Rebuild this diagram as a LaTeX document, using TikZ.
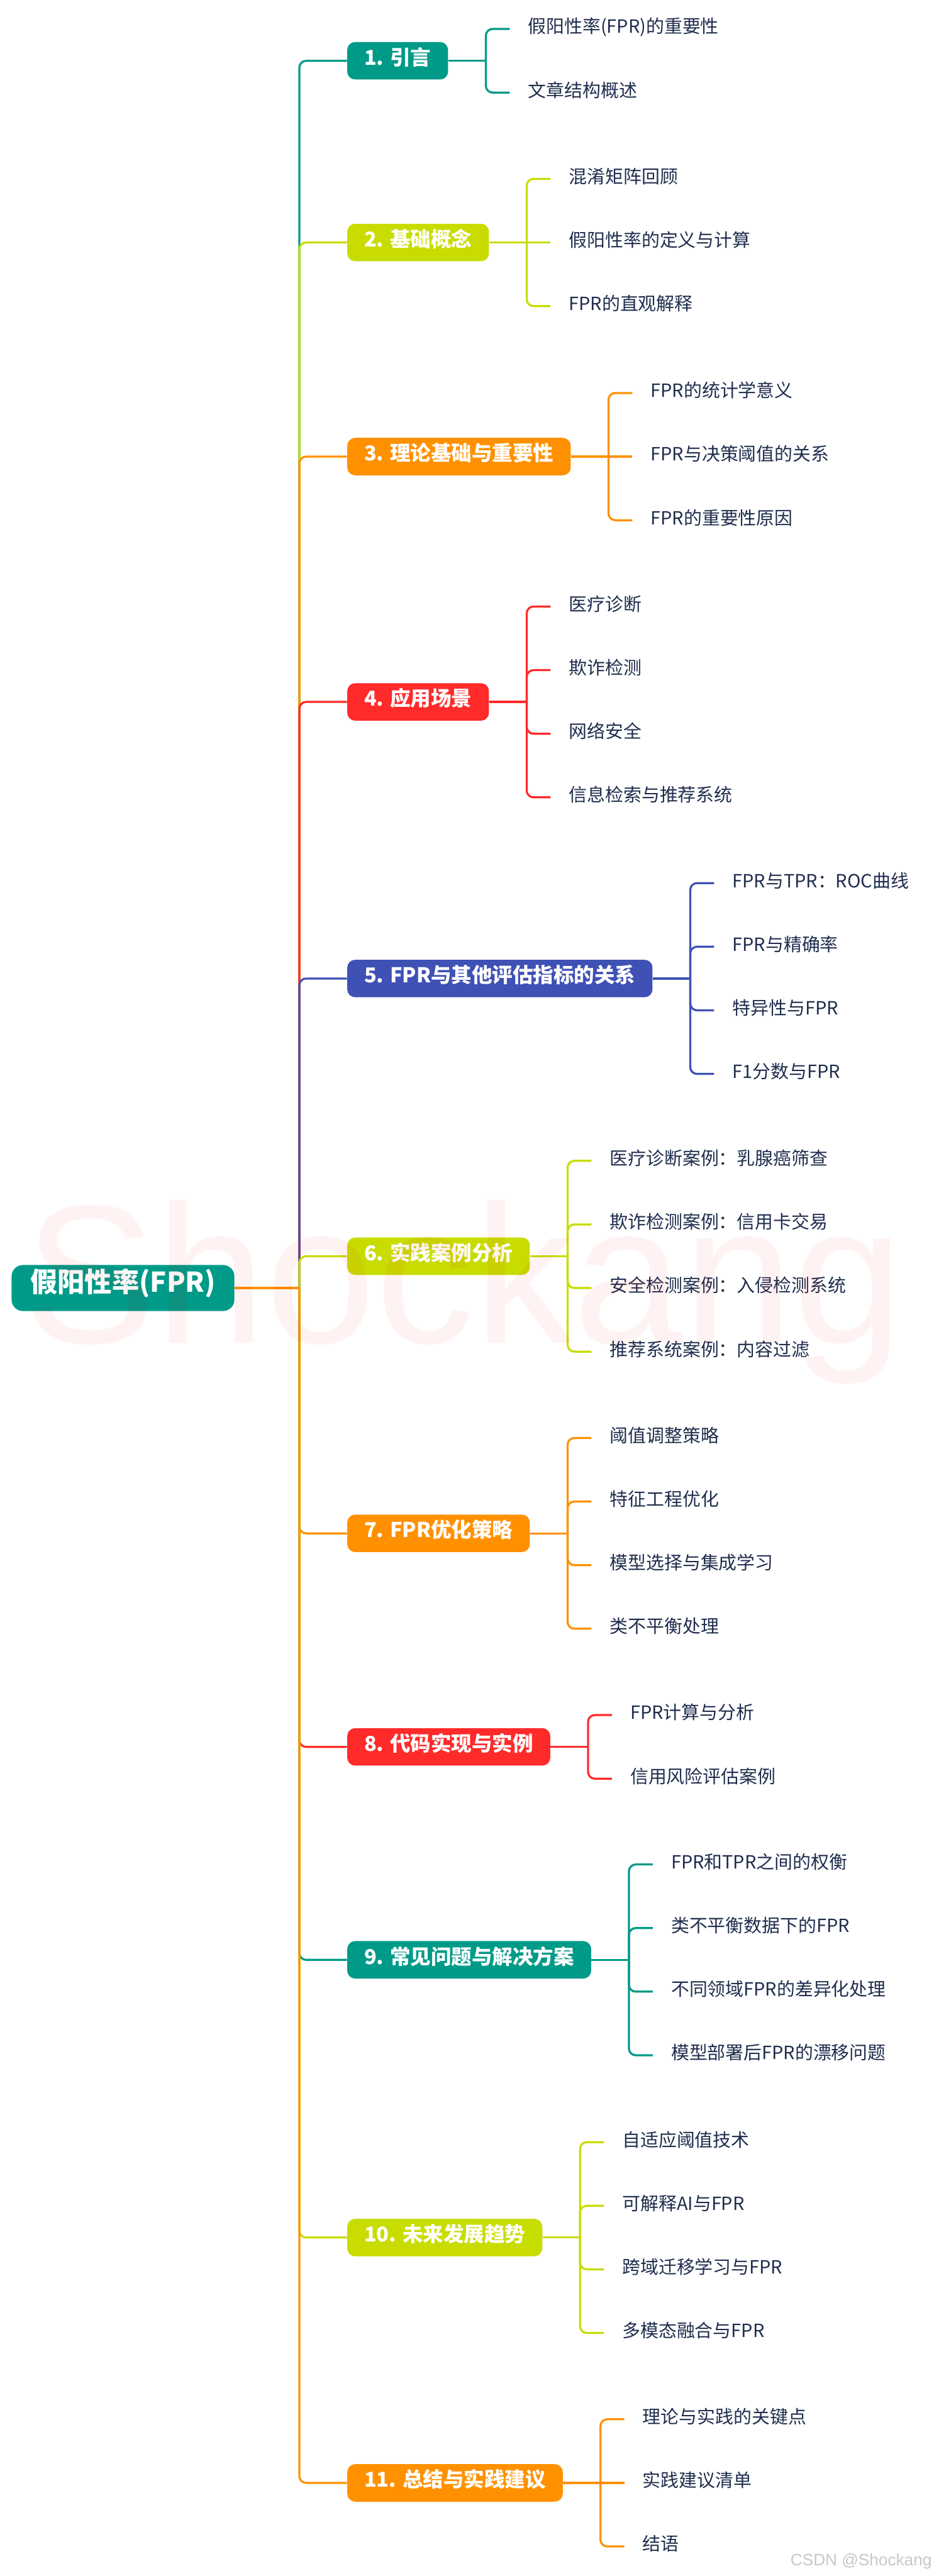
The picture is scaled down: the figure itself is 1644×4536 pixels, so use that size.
\documentclass[tikz,border=0pt]{standalone}
\usepackage{fontspec}
\setmainfont{Noto Sans CJK SC}
\newfontfamily\wmfont{Liberation Sans}
\definecolor{cTeal}{RGB}{0,154,136}
\definecolor{cLime}{RGB}{200,220,0}
\definecolor{cOrange}{RGB}{255,145,0}
\definecolor{cRed}{RGB}{255,42,42}
\definecolor{cBlue}{RGB}{63,81,181}
\definecolor{cText}{RGB}{31,45,77}
\tikzset{
  rootbox/.style={fill=cTeal, rounded corners=10pt, text=white,
    font=\fontsize{24}{24}\selectfont\bfseries, inner xsep=16.5pt, inner ysep=0pt,
    minimum height=40.5pt, text height=0.78em, text depth=0.02em, anchor=west},
  topicbox/.style={fill=#1, rounded corners=7pt, text=white,
    font=\fontsize{18}{18}\selectfont\bfseries, inner xsep=15pt, inner ysep=0pt,
    minimum height=33pt, text height=0.78em, text depth=0.02em, anchor=west},
  leafnode/.style={text=cText, font=\fontsize{16}{16}\selectfont, inner sep=0pt,
    text height=0.78em, text depth=0.02em, anchor=west},
  linkline/.style={draw=#1, line width=1.8pt, rounded corners=6pt},
}
\begin{document}
\begin{tikzpicture}[x=0.5pt, y=-0.5pt]
\useasboundingbox (0,0) rectangle (1644,4536);
\coordinate (J) at (527,2268);
\node[rootbox] (root) at (20,2268) {假阳性率(FPR)};

% ---------- topic nodes
\node[topicbox=cTeal]   (b1)  at (611,107)  {1. 引言};
\node[topicbox=cLime]   (b2)  at (611,427)  {2. 基础概念};
\node[topicbox=cOrange] (b3)  at (611,804)  {3. 理论基础与重要性};
\node[topicbox=cRed]    (b4)  at (611,1236) {4. 应用场景};
\node[topicbox=cBlue]   (b5)  at (611,1723) {5. FPR与其他评估指标的关系};
\node[topicbox=cLime]   (b6)  at (611,2212) {6. 实践案例分析};
\node[topicbox=cOrange] (b7)  at (611,2700) {7. FPR优化策略};
\node[topicbox=cRed]    (b8)  at (611,3076) {8. 代码实现与实例};
\node[topicbox=cTeal]   (b9)  at (611,3451) {9. 常见问题与解决方案};
\node[topicbox=cLime]   (b10) at (611,3940) {10. 未来发展趋势};
\node[topicbox=cOrange] (b11) at (611,4372) {11. 总结与实践建议};

% ---------- bracket coordinates
\foreach \i in {1,...,11} {\coordinate (k\i) at ([xshift=33pt]b\i.east);}

% ---------- leaves
\node[leafnode] (c1a) at ([xshift=37pt,yshift=28pt]k1)  {假阳性率(FPR)的重要性};
\node[leafnode] (c1b) at ([xshift=37pt,yshift=-28pt]k1) {文章结构概述};

\node[leafnode] (c2a) at ([xshift=37pt,yshift=56pt]k2)  {混淆矩阵回顾};
\node[leafnode] (c2b) at ([xshift=37pt]k2)              {假阳性率的定义与计算};
\node[leafnode] (c2c) at ([xshift=37pt,yshift=-56pt]k2) {FPR的直观解释};

\node[leafnode] (c3a) at ([xshift=37pt,yshift=56pt]k3)  {FPR的统计学意义};
\node[leafnode] (c3b) at ([xshift=37pt]k3)              {FPR与决策阈值的关系};
\node[leafnode] (c3c) at ([xshift=37pt,yshift=-56pt]k3) {FPR的重要性原因};

\node[leafnode] (c4a) at ([xshift=37pt,yshift=84pt]k4)  {医疗诊断};
\node[leafnode] (c4b) at ([xshift=37pt,yshift=28pt]k4)  {欺诈检测};
\node[leafnode] (c4c) at ([xshift=37pt,yshift=-28pt]k4) {网络安全};
\node[leafnode] (c4d) at ([xshift=37pt,yshift=-84pt]k4) {信息检索与推荐系统};

\node[leafnode] (c5a) at ([xshift=37pt,yshift=84pt]k5)  {FPR与TPR：ROC曲线};
\node[leafnode] (c5b) at ([xshift=37pt,yshift=28pt]k5)  {FPR与精确率};
\node[leafnode] (c5c) at ([xshift=37pt,yshift=-28pt]k5) {特异性与FPR};
\node[leafnode] (c5d) at ([xshift=37pt,yshift=-84pt]k5) {F1分数与FPR};

\node[leafnode] (c6a) at ([xshift=37pt,yshift=84pt]k6)  {医疗诊断案例：乳腺癌筛查};
\node[leafnode] (c6b) at ([xshift=37pt,yshift=28pt]k6)  {欺诈检测案例：信用卡交易};
\node[leafnode] (c6c) at ([xshift=37pt,yshift=-28pt]k6) {安全检测案例：入侵检测系统};
\node[leafnode] (c6d) at ([xshift=37pt,yshift=-84pt]k6) {推荐系统案例：内容过滤};

\node[leafnode] (c7a) at ([xshift=37pt,yshift=84pt]k7)  {阈值调整策略};
\node[leafnode] (c7b) at ([xshift=37pt,yshift=28pt]k7)  {特征工程优化};
\node[leafnode] (c7c) at ([xshift=37pt,yshift=-28pt]k7) {模型选择与集成学习};
\node[leafnode] (c7d) at ([xshift=37pt,yshift=-84pt]k7) {类不平衡处理};

\node[leafnode] (c8a) at ([xshift=37pt,yshift=28pt]k8)  {FPR计算与分析};
\node[leafnode] (c8b) at ([xshift=37pt,yshift=-28pt]k8) {信用风险评估案例};

\node[leafnode] (c9a) at ([xshift=37pt,yshift=84pt]k9)  {FPR和TPR之间的权衡};
\node[leafnode] (c9b) at ([xshift=37pt,yshift=28pt]k9)  {类不平衡数据下的FPR};
\node[leafnode] (c9c) at ([xshift=37pt,yshift=-28pt]k9) {不同领域FPR的差异化处理};
\node[leafnode] (c9d) at ([xshift=37pt,yshift=-84pt]k9) {模型部署后FPR的漂移问题};

\node[leafnode] (c10a) at ([xshift=37pt,yshift=84pt]k10)  {自适应阈值技术};
\node[leafnode] (c10b) at ([xshift=37pt,yshift=28pt]k10)  {可解释AI与FPR};
\node[leafnode] (c10c) at ([xshift=37pt,yshift=-28pt]k10) {跨域迁移学习与FPR};
\node[leafnode] (c10d) at ([xshift=37pt,yshift=-84pt]k10) {多模态融合与FPR};

\node[leafnode] (c11a) at ([xshift=37pt,yshift=56pt]k11)  {理论与实践的关键点};
\node[leafnode] (c11b) at ([xshift=37pt]k11)              {实践建议清单};
\node[leafnode] (c11c) at ([xshift=37pt,yshift=-56pt]k11) {结语};

% ---------- trunk connectors (order matters for overlaps)
\draw[linkline=cTeal]   (J) |- (b1.west);
\draw[linkline=cLime]   (J) |- (b2.west);
\draw[linkline=cOrange] (J) |- (b3.west);
\draw[linkline=cRed]    (J) |- (b4.west);
\draw[linkline=cBlue]   (J) |- (b5.west);
\draw[linkline=cLime]   (J) |- (b6.west);
\draw[linkline=cOrange] (J) |- (b7.west);
\draw[linkline=cRed]    (J) |- (b8.west);
\draw[linkline=cTeal]   (J) |- (b9.west);
\draw[linkline=cLime]   (J) |- (b10.west);
\draw[linkline=cOrange] (J) |- (b11.west);
\draw[linkline=cOrange] (root.east) -- (J);

% ---------- stems
\draw[linkline=cTeal]   (b1.east) -- (k1);
\draw[linkline=cLime]   (b2.east) -- (k2);
\draw[linkline=cOrange] (b3.east) -- (k3);
\draw[linkline=cRed]    (b4.east) -- (k4);
\draw[linkline=cBlue]   (b5.east) -- (k5);
\draw[linkline=cLime]   (b6.east) -- (k6);
\draw[linkline=cOrange] (b7.east) -- (k7);
\draw[linkline=cRed]    (b8.east) -- (k8);
\draw[linkline=cTeal]   (b9.east) -- (k9);
\draw[linkline=cLime]   (b10.east) -- (k10);
\draw[linkline=cOrange] (b11.east) -- (k11);

% ---------- leaf connectors
\draw[linkline=cTeal] (k1) |- ([xshift=-16pt]c1a.west);
\draw[linkline=cTeal] (k1) |- ([xshift=-16pt]c1b.west);

\draw[linkline=cLime] (k2) |- ([xshift=-16pt]c2a.west);
\draw[linkline=cLime] (k2) -- ([xshift=-16pt]c2b.west);
\draw[linkline=cLime] (k2) |- ([xshift=-16pt]c2c.west);

\draw[linkline=cOrange] (k3) |- ([xshift=-16pt]c3a.west);
\draw[linkline=cOrange] (k3) -- ([xshift=-16pt]c3b.west);
\draw[linkline=cOrange] (k3) |- ([xshift=-16pt]c3c.west);

\foreach \s in {a,b,c,d} {\draw[linkline=cRed] (k4) |- ([xshift=-16pt]c4\s.west);}
\foreach \s in {a,b,c,d} {\draw[linkline=cBlue] (k5) |- ([xshift=-16pt]c5\s.west);}
\foreach \s in {a,b,c,d} {\draw[linkline=cLime] (k6) |- ([xshift=-16pt]c6\s.west);}
\foreach \s in {a,b,c,d} {\draw[linkline=cOrange] (k7) |- ([xshift=-16pt]c7\s.west);}
\foreach \s in {a,b} {\draw[linkline=cRed] (k8) |- ([xshift=-16pt]c8\s.west);}
\foreach \s in {a,b,c,d} {\draw[linkline=cTeal] (k9) |- ([xshift=-16pt]c9\s.west);}
\foreach \s in {a,b,c,d} {\draw[linkline=cLime] (k10) |- ([xshift=-16pt]c10\s.west);}

\draw[linkline=cOrange] (k11) |- ([xshift=-16pt]c11a.west);
\draw[linkline=cOrange] (k11) -- ([xshift=-16pt]c11b.west);
\draw[linkline=cOrange] (k11) |- ([xshift=-16pt]c11c.west);

% ---------- watermark and credit
\node[anchor=base west, inner sep=0pt, text=red, text opacity=0.05,
  font=\wmfont\fontsize{174}{174}\selectfont] (wm) at (42,2365) {Shockang};
\node[anchor=base east, inner sep=0pt, text=black!22,
  font=\wmfont\fontsize{14.5}{14.5}\selectfont] (credit) at (1641,4518) {CSDN @Shockang};
\end{tikzpicture}
\end{document}
